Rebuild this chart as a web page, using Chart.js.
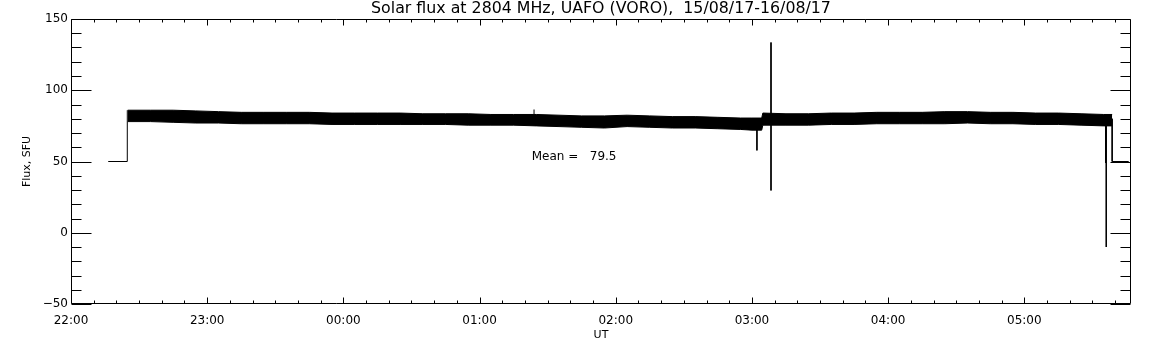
<!DOCTYPE html>
<html>
<head>
<meta charset="utf-8">
<script src="https://cdn.jsdelivr.net/npm/chart.js@4/dist/chart.umd.min.js"></script>
<style>
  html, body { margin: 0; padding: 0; background: #fff; }
</style>
</head>
<body>
<canvas id="flux" width="1152" height="345"></canvas>
<script>
// time axis is minutes after 22:00 UT on 15/08/17
const hourTicks = [0, 60, 120, 180, 240, 300, 360, 420]
const hourLabels = ['22:00', '23:00', '00:00', '01:00', '02:00', '03:00', '04:00', '05:00']
const fluxTicks = [-50, 0, 50, 100, 150]

const bandTimes = [25, 35, 45, 55, 65, 75, 85, 95, 105, 115, 125, 135, 145, 155, 165, 175, 185, 195, 205,
  215, 225, 235, 245, 255, 265, 275, 285, 295, 300, 304.3, 304.8, 315, 325, 335, 345, 355, 365, 375, 385, 395,
  405, 415, 425, 435, 445, 455, 458.7]
const bandTop = [86, 86, 86, 85.5, 85, 84.5, 84.5, 84.5, 84.5, 84, 84, 84, 84, 83.5, 83.5, 83.5, 83, 83, 83,
  82.5, 82, 82, 82.5, 82, 81.5, 81.5, 81, 80.5, 80.5, 80.5, 84, 83.5, 83.5, 84, 84, 84.5, 84.5, 84.5, 85, 85,
  84.5, 84.5, 84, 84, 83.5, 83, 83]
const bandBottom = [78, 78, 77.5, 77, 77, 76.5, 76.5, 76.5, 76.5, 76, 76, 76, 76, 76, 76, 75.5, 75.5, 75.5, 75,
  74.5, 74, 73.5, 74.5, 74, 73.5, 73.5, 73, 72.5, 72, 72, 75.5, 75.5, 75.5, 76, 76, 76.5, 76.5, 76.5, 76.5, 77,
  76.5, 76.5, 76, 76, 75.5, 75, 75]

// single samples outside the band (null breaks the line)
const traceTimes = [16.4, 24.8, 24.8, 24.8, 204, 204, 204, 302.2, 302.2, 302.2, 308.4, 308.4, 308.4,
  455.8, 455.8, 455.8, 456.1, 456.1, 456.1, 458.7, 458.7, 466]
const traceFlux = [50, 50, 86, null, 83, 86.5, null, 78, 57.8, null, 133.5, 29.7, null,
  80, 49, null, 80, -10, null, 80, 50, 50]

const meanFlux = 79.5
const titleText = 'Solar flux at 2804 MHz, UAFO (VORO),  15/08/17-16/08/17'

const toPoints = (xs, ys) => xs.map((x, i) => ({ x: x, y: ys[i] }))

const idlFrame = {
  id: 'idlFrame',
  afterDraw(chart) {
    const { ctx, chartArea: a, scales: { x, y } } = chart
    const L = Math.round(a.left) + 0.5
    const R = Math.round(a.right) - 0.5
    const T = Math.round(a.top) + 0.5
    const B = Math.round(a.bottom) - 0.5
    ctx.save()
    ctx.strokeStyle = '#000'
    ctx.lineWidth = 1
    ctx.beginPath()
    ctx.rect(L, T, R - L, B - T)
    for (let m = 0; m <= x.max; m += 10) {
      const px = Math.round(x.getPixelForValue(m)) + 0.5
      const len = m % 60 === 0 ? 6 : 3
      ctx.moveTo(px, B); ctx.lineTo(px, B - len)
      ctx.moveTo(px, T); ctx.lineTo(px, T + len)
    }
    for (let v = y.min; v <= y.max; v += 10) {
      const py = Math.round(y.getPixelForValue(v)) + 0.5
      const len = v % 50 === 0 ? 20 : 10
      ctx.moveTo(L, py); ctx.lineTo(L + len, py)
      ctx.moveTo(R, py); ctx.lineTo(R - len, py)
    }
    ctx.stroke()

    ctx.fillStyle = '#000'
    ctx.textBaseline = 'middle'
    ctx.font = '15.8px "DejaVu Sans"'
    ctx.textAlign = 'center'
    ctx.fillText(titleText, (a.left + a.right) / 2, 9)
    ctx.font = '12px "DejaVu Sans"'
    ctx.textAlign = 'left'
    ctx.fillText('Mean =   ' + meanFlux.toFixed(1), x.getPixelForValue(203), y.getPixelForValue(53))
    ctx.restore()
  }
}

const font = (size) => ({ family: '"DejaVu Sans", sans-serif', size: size, weight: 'normal' })

new Chart(document.getElementById('flux'), {
  type: 'line',
  data: {
    datasets: [
      {
        data: toPoints(bandTimes, bandTop),
        borderColor: '#000',
        backgroundColor: '#000',
        borderWidth: 1,
        pointRadius: 0,
        fill: '+1'
      },
      {
        data: toPoints(bandTimes, bandBottom),
        borderColor: '#000',
        borderWidth: 1,
        pointRadius: 0,
        fill: false
      },
      {
        data: toPoints(traceTimes, traceFlux),
        borderColor: '#000',
        borderWidth: 1,
        pointRadius: 0,
        fill: false,
        spanGaps: false
      }
    ]
  },
  options: {
    responsive: false,
    animation: false,
    devicePixelRatio: 1,
    layout: { padding: { left: 0, right: 21, top: 19, bottom: 0 } },
    plugins: {
      legend: { display: false },
      tooltip: { enabled: false },
      title: { display: false }
    },
    scales: {
      x: {
        type: 'linear',
        min: 0,
        max: 467,
        grid: { display: false, drawTicks: false },
        border: { display: false },
        afterFit: (scale) => { scale.height = 41 },
        afterBuildTicks: (scale) => { scale.ticks = hourTicks.map((v) => ({ value: v })) },
        ticks: {
          color: '#000',
          font: font(12),
          padding: 10,
          maxRotation: 0,
          callback: (v) => hourLabels[hourTicks.indexOf(v)]
        },
        title: { display: true, text: 'UT', color: '#000', font: font(11), padding: { top: 0, bottom: 3 } }
      },
      y: {
        min: -50,
        max: 150,
        grid: { display: false, drawTicks: false },
        border: { display: false },
        afterFit: (scale) => { scale.width = 71 },
        afterBuildTicks: (scale) => { scale.ticks = fluxTicks.map((v) => ({ value: v })) },
        ticks: {
          color: '#000',
          font: font(12),
          padding: 3,
          callback: (v) => (v < 0 ? '\u2212' + Math.abs(v) : String(v))
        },
        title: { display: true, text: 'Flux, SFU', color: '#000', font: font(11), padding: { top: 21, bottom: 0 } }
      }
    }
  },
  plugins: [idlFrame]
})
</script>
</body>
</html>
